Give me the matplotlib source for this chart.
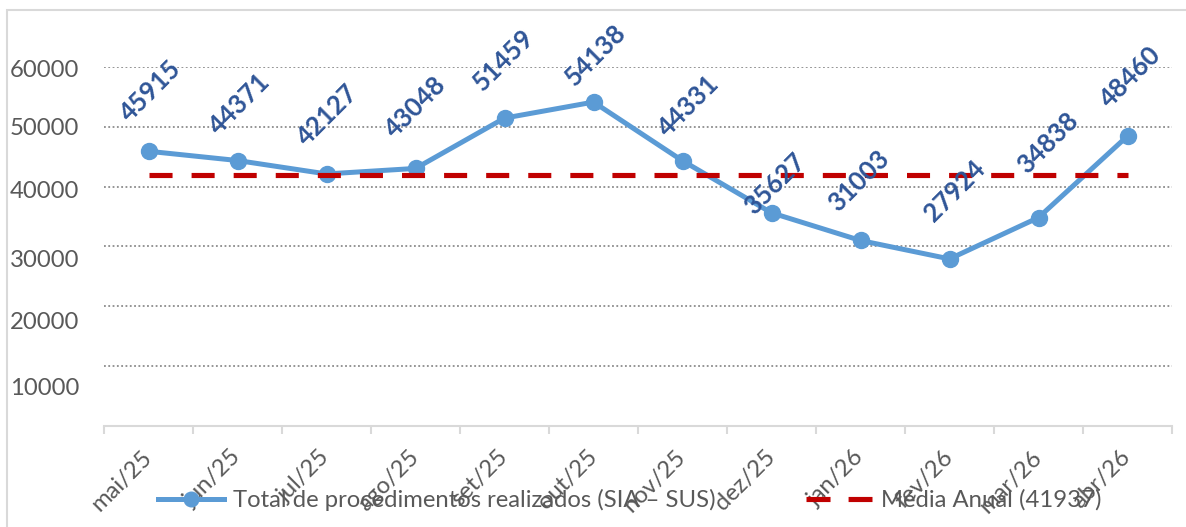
import matplotlib
matplotlib.use('Agg')
import matplotlib.pyplot as plt
from matplotlib.lines import Line2D
from matplotlib.patches import Rectangle
from matplotlib.transforms import ScaledTranslation
import numpy as np

# ---------------- data ----------------
months = ['mai/25', 'jun/25', 'jul/25', 'ago/25', 'set/25', 'out/25',
          'nov/25', 'dez/25', 'jan/26', 'fev/26', 'mar/26', 'abr/26']
totals = [45915, 44371, 42127, 43048, 51459, 54138,
          44331, 35627, 31003, 27924, 34838, 48460]
annual_mean = 41937
y_ticks = [10000, 20000, 30000, 40000, 50000, 60000]
series_label = 'Total de procedimentos realizados (SIA – SUS)'
mean_label = f'Média Anual ({annual_mean})'

# ---------------- style ----------------
label_dx_px = [2, 2, 1, 0, -1, 2, 6, 3, -2, 5, 9, 3]
label_dy_px = [60, 57, 59, 61, 58, 47, 55, 29, 60, 68, 75, 59]
ytick_shift_px = [20, 14, 12, 3, 0, 2]

W, H = 1186, 527
plt.rcParams['font.family'] = ['Lato', 'DejaVu Sans']
plt.rcParams['lines.scale_dashes'] = False
fig = plt.figure(figsize=(W / 100, H / 100), dpi=100)
ax = fig.add_axes([104 / W, 1 - 426 / H, (1172 - 104) / W, (426 - 67) / H])

BLUE = '#5B9BD5'
RED = '#C00000'
GREY_TXT = '#595959'
AXIS_GREY = '#D9D9D9'
FS = 17.2

x = np.arange(len(months))
ax.plot(x, totals, color=BLUE, lw=3.6, marker='o', ms=11.5, zorder=3,
        solid_capstyle='round', solid_joinstyle='round')
ax.plot(x, [annual_mean] * len(x), color=RED, lw=3.7, dashes=(16.6, 13.7),
        dash_capstyle='butt', zorder=4)

for xi, v, dx, dy in zip(x, totals, label_dx_px, label_dy_px):
    ax.annotate(str(v), (xi, v), xytext=(dx * 0.72, dy * 0.72),
                textcoords='offset points', ha='center', va='center',
                rotation=45, fontsize=18.5, fontweight='bold',
                color='#2F5597', annotation_clip=False, zorder=5)

ax.set_xlim(-0.5, len(months) - 0.5)
ax.set_ylim(0, 60000)
ax.set_yticks(y_ticks)
ax.set_yticklabels([str(t) for t in y_ticks])
ax.yaxis.grid(True, color='#8C8C8C', lw=1.3, linestyle=(0, (1.3, 1.8)))
ax.set_axisbelow(True)
for s in ['top', 'left', 'right']:
    ax.spines[s].set_visible(False)
ax.spines['bottom'].set_color(AXIS_GREY)
ax.spines['bottom'].set_linewidth(1.5)
ax.tick_params(axis='y', length=0, pad=18, labelsize=FS, labelcolor=GREY_TXT)

ax.set_xticks(x)
ax.set_xticklabels(months)
ax.set_xticks(np.arange(-0.5, len(months), 1), minor=True)
ax.tick_params(axis='x', which='major', length=0, pad=20, labelsize=FS,
               labelcolor=GREY_TXT)
ax.tick_params(axis='x', which='minor', length=6, width=1.5, color=AXIS_GREY,
               direction='out')
for lbl in ax.get_xticklabels():
    lbl.set_rotation(45)
    lbl.set_ha('right')
    lbl.set_va('center')
    lbl.set_rotation_mode('anchor')
    lbl.set_transform(lbl.get_transform() + ScaledTranslation(0, 0, fig.dpi_scale_trans))
for lbl, d in zip(ax.get_yticklabels(), ytick_shift_px):
    lbl.set_transform(lbl.get_transform() + ScaledTranslation(0, -d / 100, fig.dpi_scale_trans))

handles = [
    Line2D([], [], color=BLUE, lw=3.6, marker='o', ms=10.5),
    Line2D([], [], color=RED, lw=3.7, dashes=(17.3, 13.0), dash_capstyle='butt'),
]
leg = fig.legend(handles, [series_label, mean_label], loc='center',
                 bbox_to_anchor=(630 / W, 1 - 500 / H), ncol=2, frameon=False,
                 fontsize=FS, handlelength=47.5 / FS, handletextpad=6.5 / FS,
                 columnspacing=65 / FS, borderpad=0, borderaxespad=0)
for t in leg.get_texts():
    t.set_color(GREY_TXT)

fig.add_artist(Rectangle((7 / W, -0.1), 1.2, 1 - 10 / H + 0.1, transform=fig.transFigure,
                         fill=False, ec=AXIS_GREY, lw=1.5))

fig.savefig('out.png', dpi=100)
